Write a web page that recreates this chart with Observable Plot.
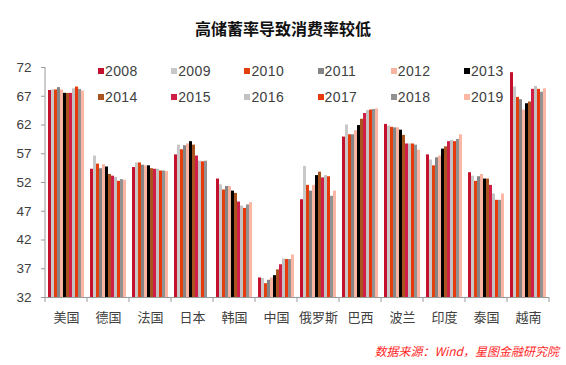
<!DOCTYPE html>
<html>
<head>
<meta charset="utf-8">
<script src="https://cdn.jsdelivr.net/npm/d3@7"></script>
<script src="https://cdn.jsdelivr.net/npm/@observablehq/plot@0.6"></script>
<style>
  body { margin: 0; background: #fff; }
  #wrap { position: relative; width: 566px; height: 365px; overflow: hidden; font-family: "Liberation Sans", Arial, sans-serif; }
  #title { position: absolute; top: 17px; left: 0; width: 566px; text-align: center; font-family: "Noto Sans CJK SC", sans-serif; font-weight: bold; font-size: 16px; color: #111; line-height: 22px; }
  #chart { position: absolute; left: 0; top: 50px; }
  #legend { position: absolute; left: 98px; top: 62px; width: 440px; display: grid; grid-template-columns: repeat(6, 73.2px); grid-auto-rows: 26px; font-size: 14px; color: #404040; letter-spacing: 0.4px; }
  .item { display: flex; align-items: center; height: 18px; }
  .sw { width: 6px; height: 6px; margin-right: 1px; display: inline-block; }
  #caption { position: absolute; right: 7px; top: 343px; font-family: "Noto Sans CJK SC", sans-serif; font-style: italic; font-size: 12px; color: #ff1f1f; line-height: 16px; }
</style>
</head>
<body>
<div id="wrap">
  <div id="title">高储蓄率导致消费率较低</div>
  <div id="chart"></div>
  <div id="legend"></div>
  <div id="caption">数据来源：Wind，星图金融研究院</div>
</div>
<script>
const countries = ["美国","德国","法国","日本","韩国","中国","俄罗斯","巴西","波兰","印度","泰国","越南"];
const years = ["2008","2009","2010","2011","2012","2013","2014","2015","2016","2017","2018","2019"];
const yearColors = ["#c3102d","#c8c8c8","#e2400f","#858585","#f9b3a1","#000000","#a9531f","#cf1f47","#c2c2c2","#e7390c","#929292","#fbb7a4"];
const yTicks = [32,37,42,47,52,57,62,67,72];
const yMin = 32, yMax = 72;

const usa    = [68.0, 68.1, 68.1, 68.5, 68.1, 67.5, 67.5, 67.5, 68.3, 68.6, 68.2, 67.9];
const germany= [54.3, 56.6, 55.2, 54.4, 55.1, 54.7, 53.4, 53.1, 52.9, 52.2, 52.5, 52.4];
const france = [54.6, 55.4, 55.4, 55.0, 54.9, 54.9, 54.4, 54.3, 54.3, 54.0, 54.0, 53.9];
const japan  = [56.8, 58.5, 57.7, 58.4, 58.7, 59.1, 58.5, 56.6, 55.7, 55.6, 55.7, null];
const korea  = [52.6, 51.6, 50.7, 51.3, 51.3, 50.5, 50.1, 48.6, 47.9, 47.5, 48.1, 48.5];
const china  = [35.4, 35.3, 34.4, 35.0, 35.4, 35.8, 36.8, 37.7, 38.7, 38.6, 38.6, 39.4];
const russia = [49.0, 54.8, 51.5, 50.5, 51.5, 53.2, 53.8, 52.8, 53.2, 53.0, 49.6, 50.5];
const brazil = [59.9, 62.0, 60.3, 60.3, 61.0, 61.9, 63.0, 64.0, 64.5, 64.6, 64.7, 64.8];
const poland = [62.1, 61.8, 61.6, 61.5, 61.5, 61.1, 60.2, 58.7, 58.7, 58.7, 58.5, 57.6];
const india  = [56.8, 55.9, 54.9, 56.3, 56.6, 57.8, 58.2, 59.1, 59.3, 59.1, 59.5, 60.3];
const thailand=[53.7, 53.1, 52.2, 53.0, 53.4, 52.6, 52.6, 51.5, 50.0, 48.9, 48.9, 50.0];
const vietnam= [71.1, 68.6, 66.8, 66.4, 64.6, 65.7, 66.0, 68.2, 68.7, 68.2, 67.7, 68.3];

const series = [usa, germany, france, japan, korea, china, russia, brazil, poland, india, thailand, vietnam];
const data = [];
countries.forEach((c, i) => years.forEach((y, j) => {
  const v = series[i][j];
  if (v != null) data.push({country: c, year: y, value: v});
}));

const plot = Plot.plot({
  width: 566,
  height: 285,
  marginTop: 17,
  marginBottom: 38,
  marginLeft: 43,
  marginRight: 15,
  style: {fontFamily: "'Liberation Sans', Arial, sans-serif", fontSize: "13.5px", color: "#404040", background: "transparent"},
  fx: {domain: countries, padding: 0, label: null},
  x: {domain: years, paddingInner: 0.08, paddingOuter: 0.7, axis: null},
  y: {domain: [yMin, yMax], label: null},
  color: {domain: years, range: yearColors},
  marks: [
    Plot.barY(data, {fx: "country", x: "year", y1: yMin, y2: "value", fill: "year"}),
    Plot.ruleY([yMin], {stroke: "#9a9a9a", strokeWidth: 1}),
    Plot.axisY({ticks: yTicks, tickSize: 4, tickPadding: 10, label: null, stroke: "#9a9a9a", fill: "#404040"}),
    Plot.axisFx({anchor: "bottom", tickSize: 0, tickPadding: 15, label: null, fontFamily: "'Noto Sans CJK SC', sans-serif", fontSize: 13, fill: "#404040"})
  ]
});
document.getElementById("chart").appendChild(plot);

// axis line and category boundary ticks, placed with the plot's own scales
const fxS = plot.scale("fx"), yS = plot.scale("y");
const svg = d3.select(plot);
const y0 = yS.apply(yMin), y1 = yS.apply(yMax);
const left = fxS.apply(countries[0]);
const bw = fxS.bandwidth;
const g = svg.append("g").attr("stroke", "#9a9a9a").attr("stroke-width", 1);
g.append("line").attr("x1", left).attr("x2", left).attr("y1", y0).attr("y2", y1);
const bounds = countries.map(c => fxS.apply(c)).concat([fxS.apply(countries[countries.length - 1]) + bw]);
bounds.forEach(b => g.append("line").attr("x1", b).attr("x2", b).attr("y1", y0).attr("y2", y0 + 5));

// legend
const leg = d3.select("#legend");
years.forEach((y, i) => {
  const it = leg.append("div").attr("class", "item");
  it.append("span").attr("class", "sw").style("background", yearColors[i]);
  it.append("span").text(y);
});
</script>
</body>
</html>
